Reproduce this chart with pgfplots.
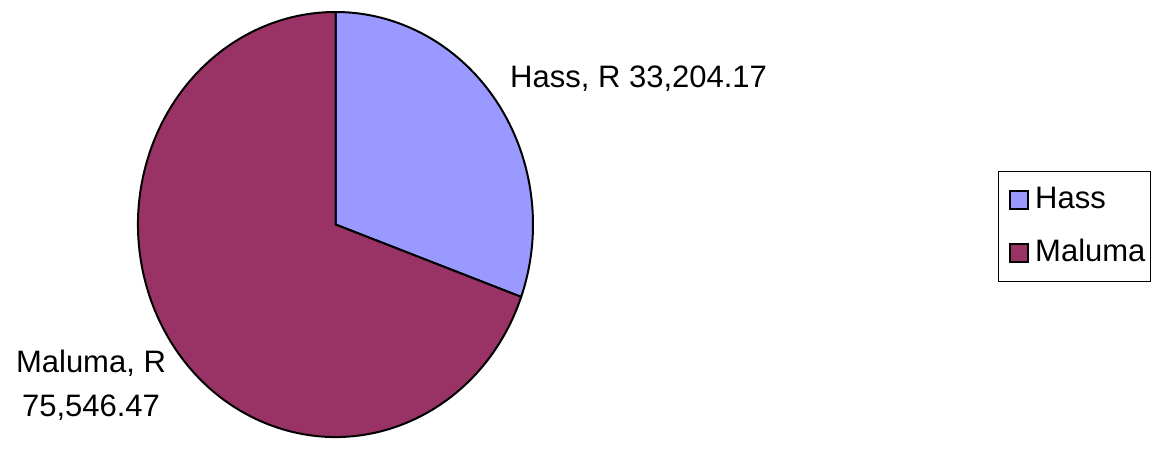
\documentclass[border=0pt]{standalone}
\usepackage{fontspec}
\setmainfont{Liberation Sans}
\usepackage{pgfplots}
\usepackage{pgfplotstable}
\pgfplotsset{compat=1.18}
\definecolor{hass}{HTML}{9999FF}
\definecolor{maluma}{HTML}{993366}
\pgfplotstableread{
name value
Hass 33204.17
Maluma 75546.47
}\piedata
\pgfplotstablegetelem{0}{value}\of\piedata \let\vHass\pgfplotsretval
\pgfplotstablegetelem{1}{value}\of\piedata \let\vMaluma\pgfplotsretval
\edef\angHass{\fpeval{360*\vHass/(\vHass+\vMaluma)}}
\edef\endHass{\fpeval{90-\angHass}}
\begin{document}
\begin{tikzpicture}
\begin{axis}[
  x=1pt, y=1pt,
  xmin=0, xmax=1154, ymin=0, ymax=438,
  hide axis, clip=false,
  legend cell align=left,
  legend image code/.code={\path (0pt,0pt) (31pt,0pt); \draw[#1,line width=2.2pt] (6pt,-9pt) rectangle (24pt,9pt);},
  legend style={at={(axis cs:998,267)}, anchor=north west, draw=black, line width=0.8pt,
    font=\fontsize{31}{37}\selectfont, row sep=22pt, column sep=0pt,
    inner xsep=5pt, inner ysep=13pt,
    nodes={inner sep=0pt, text height=24pt, text depth=7pt}},
]
\path (axis cs:0,0) rectangle (axis cs:1154,438);
\addlegendimage{fill=hass, draw=black}
\addlegendentry{Hass}
\addlegendimage{fill=maluma, draw=black}
\addlegendentry{Maluma}
\filldraw[fill=hass, draw=black, line width=2pt, line join=round]
  (axis cs:335.5,213.5) -- ++(0pt,212.5pt)
  arc[start angle=90, end angle=\endHass, x radius=197.5pt, y radius=212.5pt] -- cycle;
\filldraw[fill=maluma, draw=black, line width=2pt, line join=round]
  (axis cs:335.5,213.5) -- ++({197.5*cos(\endHass)}, {212.5*sin(\endHass)})
  arc[start angle=\endHass, end angle=-270, x radius=197.5pt, y radius=212.5pt] -- cycle;
\node[anchor=base west, inner sep=0pt, font=\fontsize{31}{37}\selectfont] at (axis cs:510,350) {Hass, R 33,204.17};
\node[anchor=base, inner sep=0pt, font=\fontsize{31}{37}\selectfont] at (axis cs:91,66) {Maluma, R};
\node[anchor=base, inner sep=0pt, font=\fontsize{31}{37}\selectfont] at (axis cs:91,22) {75,546.47};
\end{axis}
\end{tikzpicture}
\end{document}
